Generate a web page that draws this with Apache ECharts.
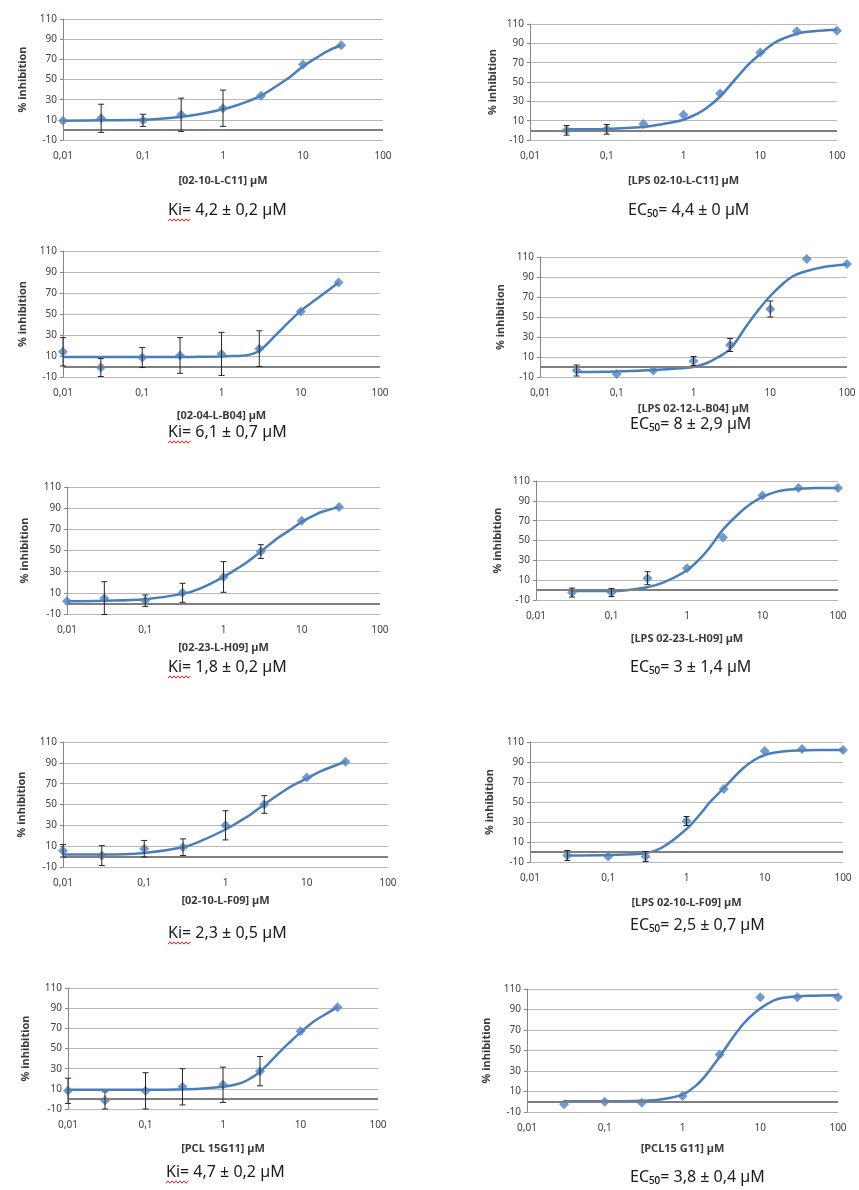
<!DOCTYPE html>
<html>
<head>
<meta charset="utf-8">
<script src="https://cdn.jsdelivr.net/npm/echarts@6/dist/echarts.min.js"></script>
<style>
  html, body { margin: 0; padding: 0; background: #fff; }
  #chart { width: 859px; height: 1190px; }
</style>
</head>
<body>
<div id="chart"></div>
<script>
// concentrations (µM)
const concLeft = [0.01, 0.03, 0.1, 0.3, 1, 3, 10, 30];
const concRight = [0.03, 0.1, 0.3, 1, 3, 10, 30, 100];
const fitXLeft = [0.01, 0.03, 0.1, 0.3, 0.5, 1, 1.5, 2, 3, 5, 7, 10, 15, 20, 30];
const fitXRight = [0.03, 0.1, 0.3, 0.5, 1, 1.5, 2, 3, 5, 7, 10, 15, 20, 30, 50, 100];

// 02-10-L-C11
const c11Mean = [9, 11.5, 9.5, 15, 21.5, 34, 65, 84];
const c11Err = [0, 14, 6, 16.5, 18, 2, 1.5, 0];
const c11Fit = [9, 9.5, 10, 13, 15.5, 20.5, 24.5, 28, 34, 45, 53, 63, 72, 78, 84];
// LPS 02-10-L-C11
const lpsC11Mean = [0, 1, 6.5, 16, 38, 80.5, 102.5, 103];
const lpsC11Err = [5, 5, 2, 3, 2, 2, 1, 1];
const lpsC11Fit = [1, 1.5, 3.5, 6, 11, 17, 23, 35, 55, 68, 79, 90, 95, 100, 102.5, 104];
// 02-04-L-B04
const b04Mean = [14, -1, 8.5, 10.5, 12, 17, 52.5, 80];
const b04Err = [13.5, 8.5, 9.5, 17, 20.5, 17, 1, 0];
const b04Fit = [9, 9, 9, 9, 9.2, 9.5, 10, 10.5, 15, 31, 42, 53, 63, 70, 80];
// LPS 02-12-L-B04
const lpsB04Mean = [-3.5, -7, -3.5, 6, 22, 58, 108, 103];
const lpsB04Err = [5.5, 1.5, 2, 4.5, 6.5, 8, 0, 0];
const lpsB04Fit = [-5, -4.5, -3, -2, 0, 4, 9, 18, 42, 57, 71, 84, 91, 96, 100, 102.5];
// 02-23-L-H09
const h09Mean = [2, 5, 2.5, 10, 25, 49, 78, 91];
const h09Err = [2, 15.5, 5.5, 9, 14.5, 6.5, 1, 0];
const h09Fit = [2, 2.5, 4, 9, 14, 25, 33, 39, 49, 62, 69, 77, 84, 87.5, 91];
// LPS 02-23-L-H09
const lpsH09Mean = [-2.5, -2.5, 12, 22, 53, 95.5, 103, 103];
const lpsH09Err = [4.5, 4, 6.5, 2, 1, 1, 0, 0];
const lpsH09Fit = [-1, -1, 3, 8, 20, 32, 43, 61, 78, 87, 94, 99, 101, 102, 103, 103];
// 02-10-L-F09
const f09Mean = [5.5, 1, 7.5, 9, 30, 50, 76, 91];
const f09Err = [6, 9.5, 8, 8, 14, 8.5, 1, 0];
const f09Fit = [2, 2, 3.5, 9, 15, 26, 34, 40, 50, 62, 69, 75, 82, 86, 91];
// LPS 02-10-L-F09
const lpsF09Mean = [-3.5, -4.5, -4.5, 31, 63, 101, 103, 102];
const lpsF09Err = [5, 2.5, 5, 4.5, 3, 1, 1, 0];
const lpsF09Fit = [-3.5, -3, -1, 5, 23, 38, 50, 64, 82, 91, 97, 100, 101, 101.5, 102, 102];
// PCL 15G11
const g11Mean = [8, -1.5, 8, 12, 14, 27.5, 67, 91];
const g11Err = [12.5, 8.5, 18, 18, 17.5, 14.5, 0, 0];
const g11Fit = [9, 9, 9, 9.5, 10, 12, 14.5, 18, 27, 44, 55, 66, 77, 83, 91];
// PCL15 G11
const lpsG11Mean = [-2.5, 0, -1, 5.5, 46, 102, 102, 102];
const lpsG11Err = [0, 0, 1, 1.5, 1, 0, 0, 0];
const lpsG11Fit = [0.5, 0.5, 1, 2, 7, 16, 26, 44, 68, 81, 91, 99, 101.5, 103, 103.5, 104];

const xNames = [
  '[02-10-L-C11] µM', '[LPS 02-10-L-C11] µM',
  '[02-04-L-B04] µM', '[LPS 02-12-L-B04] µM',
  '[02-23-L-H09] µM', '[LPS 02-23-L-H09] µM',
  '[02-10-L-F09] µM', '[LPS 02-10-L-F09] µM',
  '[PCL 15G11] µM', '[PCL15 G11] µM'
];
const results = [
  'Ki= 4,2 ± 0,2 µM', 'EC₅₀= 4,4 ± 0 µM',
  'Ki= 6,1 ± 0,7 µM', 'EC₅₀= 8 ± 2,9 µM',
  'Ki= 1,8 ± 0,2 µM', 'EC₅₀= 3 ± 1,4 µM',
  'Ki= 2,3 ± 0,5 µM', 'EC₅₀= 2,5 ± 0,7 µM',
  'Ki= 4,7 ± 0,2 µM', 'EC₅₀= 3,8 ± 0,4 µM'
];

const means = [c11Mean, lpsC11Mean, b04Mean, lpsB04Mean, h09Mean, lpsH09Mean, f09Mean, lpsF09Mean, g11Mean, lpsG11Mean];
const errs = [c11Err, lpsC11Err, b04Err, lpsB04Err, h09Err, lpsH09Err, f09Err, lpsF09Err, g11Err, lpsG11Err];
const fits = [c11Fit, lpsC11Fit, b04Fit, lpsB04Fit, h09Fit, lpsH09Fit, f09Fit, lpsF09Fit, g11Fit, lpsG11Fit];

// plot boxes, measured on the picture
const layout = [
  {l: 63, t: 19, w: 320, h: 121, xg: 35, yg: 35, tx: 168, ty: 210},
  {l: 530, t: 24, w: 307, h: 116, xg: 35, yg: 32, tx: 628, ty: 210},
  {l: 63, t: 251, w: 317, h: 126, xg: 33, yg: 35, tx: 168, ty: 432},
  {l: 540, t: 257, w: 307, h: 120, xg: 26, yg: 34, tx: 630, ty: 424},
  {l: 67, t: 487, w: 313, h: 127, xg: 28, yg: 37, tx: 168, ty: 667},
  {l: 536, t: 481, w: 302, h: 119, xg: 33, yg: 33, tx: 630, ty: 667},
  {l: 63, t: 742, w: 325, h: 125, xg: 28, yg: 36, tx: 168, ty: 933},
  {l: 530, t: 742, w: 313, h: 120, xg: 35, yg: 35, tx: 630, ty: 925},
  {l: 68, t: 988, w: 310, h: 121, xg: 34, yg: 37, tx: 166, ty: 1172},
  {l: 527, t: 989, w: 311, h: 123, xg: 31, yg: 35, tx: 630, ty: 1177}
];

const FONT = '"Noto Sans", "DejaVu Sans", sans-serif';
const grid = [], xAxis = [], yAxis = [], series = [], graphic = [];

layout.forEach((p, i) => {
  const right = i % 2 === 1;
  const conc = right ? concRight : concLeft;
  const fitX = right ? fitXRight : fitXLeft;
  grid.push({left: p.l, top: p.t, width: p.w, height: p.h});
  xAxis.push({
    gridIndex: i, type: 'log', logBase: 10, min: 0.01, max: 100,
    name: xNames[i], nameLocation: 'middle', nameGap: p.xg,
    nameTextStyle: {fontFamily: FONT, fontSize: 11, fontWeight: 'bold', color: '#3a3a3a'},
    axisLine: {show: false}, axisTick: {show: false}, splitLine: {show: false},
    axisLabel: {
      fontFamily: FONT, fontSize: 10, color: '#404040', margin: 11,
      formatter: v => String(Number(v.toPrecision(3))).replace('.', ',')
    }
  });
  yAxis.push({
    gridIndex: i, type: 'value', min: -10, max: 110, interval: 20,
    name: '% inhibition', nameLocation: 'middle', nameGap: p.yg,
    nameTextStyle: {fontFamily: FONT, fontSize: 11, fontWeight: 'bold', color: '#3a3a3a'},
    axisLine: {show: true, lineStyle: {color: '#868686'}},
    axisTick: {show: true, length: 3, lineStyle: {color: '#868686'}},
    splitLine: {lineStyle: {color: '#b8b8b8'}},
    axisLabel: {fontFamily: FONT, fontSize: 10, color: '#404040', margin: 6}
  });
  series.push({
    type: 'line', xAxisIndex: i, yAxisIndex: i,
    data: fitX.map((x, k) => [x, fits[i][k]]),
    smooth: 0.35, symbol: 'none',
    lineStyle: {color: '#4a7ebb', width: 2.5},
    markLine: {
      silent: true, symbol: 'none', label: {show: false},
      lineStyle: {color: '#7f7f7f', width: 1.8, type: 'solid'},
      data: [{yAxis: 0}]
    },
    z: 3
  });
  series.push({
    type: 'scatter', xAxisIndex: i, yAxisIndex: i,
    data: conc.map((x, k) => [x, means[i][k]]),
    symbol: 'diamond', symbolSize: 10,
    itemStyle: {color: '#4f81bd'}, z: 4
  });
  series.push({
    type: 'custom', xAxisIndex: i, yAxisIndex: i,
    data: conc.map((x, k) => [x, means[i][k] - errs[i][k], means[i][k] + errs[i][k]]),
    encode: {x: 0, y: [1, 2]},
    renderItem: (params, api) => {
      const lo = api.coord([api.value(0), api.value(1)]);
      const hi = api.coord([api.value(0), api.value(2)]);
      // short bars stay hidden behind the marker, as in the original
      if (Math.abs(lo[1] - hi[1]) < 7.5) return null;
      const c = 3;
      const st = {stroke: '#262626', lineWidth: 1};
      return {type: 'group', children: [
        {type: 'line', shape: {x1: lo[0], y1: lo[1], x2: hi[0], y2: hi[1]}, style: st},
        {type: 'line', shape: {x1: lo[0] - c, y1: lo[1], x2: lo[0] + c, y2: lo[1]}, style: st},
        {type: 'line', shape: {x1: hi[0] - c, y1: hi[1], x2: hi[0] + c, y2: hi[1]}, style: st}
      ]};
    },
    z: 5
  });
  graphic.push({
    type: 'text', x: p.tx, y: p.ty,
    style: {text: results[i], font: '16px ' + FONT, fill: '#1a1a1a', verticalAlign: 'middle'}
  });
  if (!right) {
    // spell-check squiggle under "Ki"
    const pts = [];
    for (let k = 0; k <= 11; k++) pts.push([p.tx + k * 2, p.ty + 10 + (k % 2 ? -1.2 : 1.2)]);
    graphic.push({type: 'polyline', shape: {points: pts}, style: {stroke: '#e02020', lineWidth: 1, fill: null}});
  }
});

const chart = echarts.init(document.getElementById('chart'), null, {renderer: 'canvas'});
chart.setOption({
  backgroundColor: '#fff',
  animation: false,
  grid, xAxis, yAxis, series, graphic
});
</script>
</body>
</html>
